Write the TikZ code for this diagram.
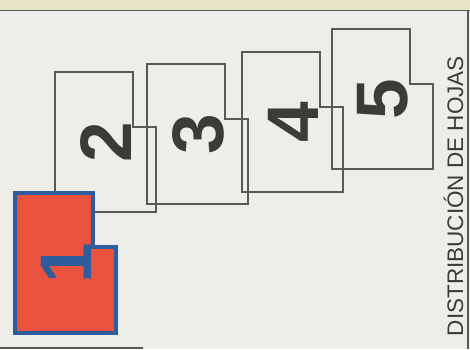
\documentclass[tikz,border=0pt]{standalone}
\usepackage{fontspec}
\setmainfont{Liberation Sans}

\definecolor{fondo}{HTML}{EDEDE9}
\definecolor{papel}{HTML}{E6E2C6}
\definecolor{trazo}{HTML}{5A5A55}
\definecolor{tinta}{HTML}{3C3C37}
\definecolor{rojo}{HTML}{E9523C}
\definecolor{azul}{HTML}{2D5D9C}

\tikzset{
  hoja/.style={draw=trazo, line width=1.4pt, line join=miter},
  num/.style={inner sep=0pt, rotate=90, text=tinta,
    font=\fontsize{73}{73}\selectfont\bfseries},
}

\begin{document}
\begin{tikzpicture}[x=1pt,y=-1pt]
            \useasboundingbox (0,0) rectangle (470,349);
            \fill[fondo] (0,0) rectangle (470,349);
            \fill[papel] (0,0) rectangle (470,10);

            % marco
            \draw[trazo, line width=1.5pt] (0,10.5) -- (470,10.5);
            \draw[trazo, line width=1.5pt] (468,10.5) -- (468,349);
            \draw[trazo, line width=1.5pt] (0,348) -- (143,348);

            % hojas 2 a 5
            \foreach \n/\px/\py in {2/55/72, 3/147/64, 4/242/52, 5/332/29}{
                \begin{scope}[shift={(\px,\py)}]
                    \coordinate (a) at (0,0);
                    \coordinate (b) at (78,0);
                    \coordinate (c) at (78,55);
                    \coordinate (d) at (101,55);
                    \coordinate (e) at (101,140);
                    \coordinate (f) at (0,140);

                    \draw[hoja] (a)--(b)--(c)--(d)--(e)--(f)--cycle;
                    \node[num] (n\n) at (51,70) {\n};
                \end{scope}
            }

            % hoja 1
            \begin{scope}[shift={(15,193)}]
                \coordinate (a) at (0,0);
                \coordinate (b) at (78,0);
                \coordinate (c) at (78,54);
                \coordinate (d) at (101,54);
                \coordinate (e) at (101,140);
                \coordinate (f) at (0,140);

                \filldraw[fill=rojo, draw=azul, line width=4pt]
                    (a)--(b)--(c)--(d)--(e)--(f)--cycle;
                \node[num, text=azul] (n1) at (51,70) {1};
            \end{scope}

            \node[inner sep=0pt, anchor=base, rotate=90, text=tinta,
                font=\fontsize{22.5}{22.5}\selectfont] (titulo)
                at (463,196) {DISTRIBUCIÓN DE HOJAS};
        \end{tikzpicture}
\end{document}
